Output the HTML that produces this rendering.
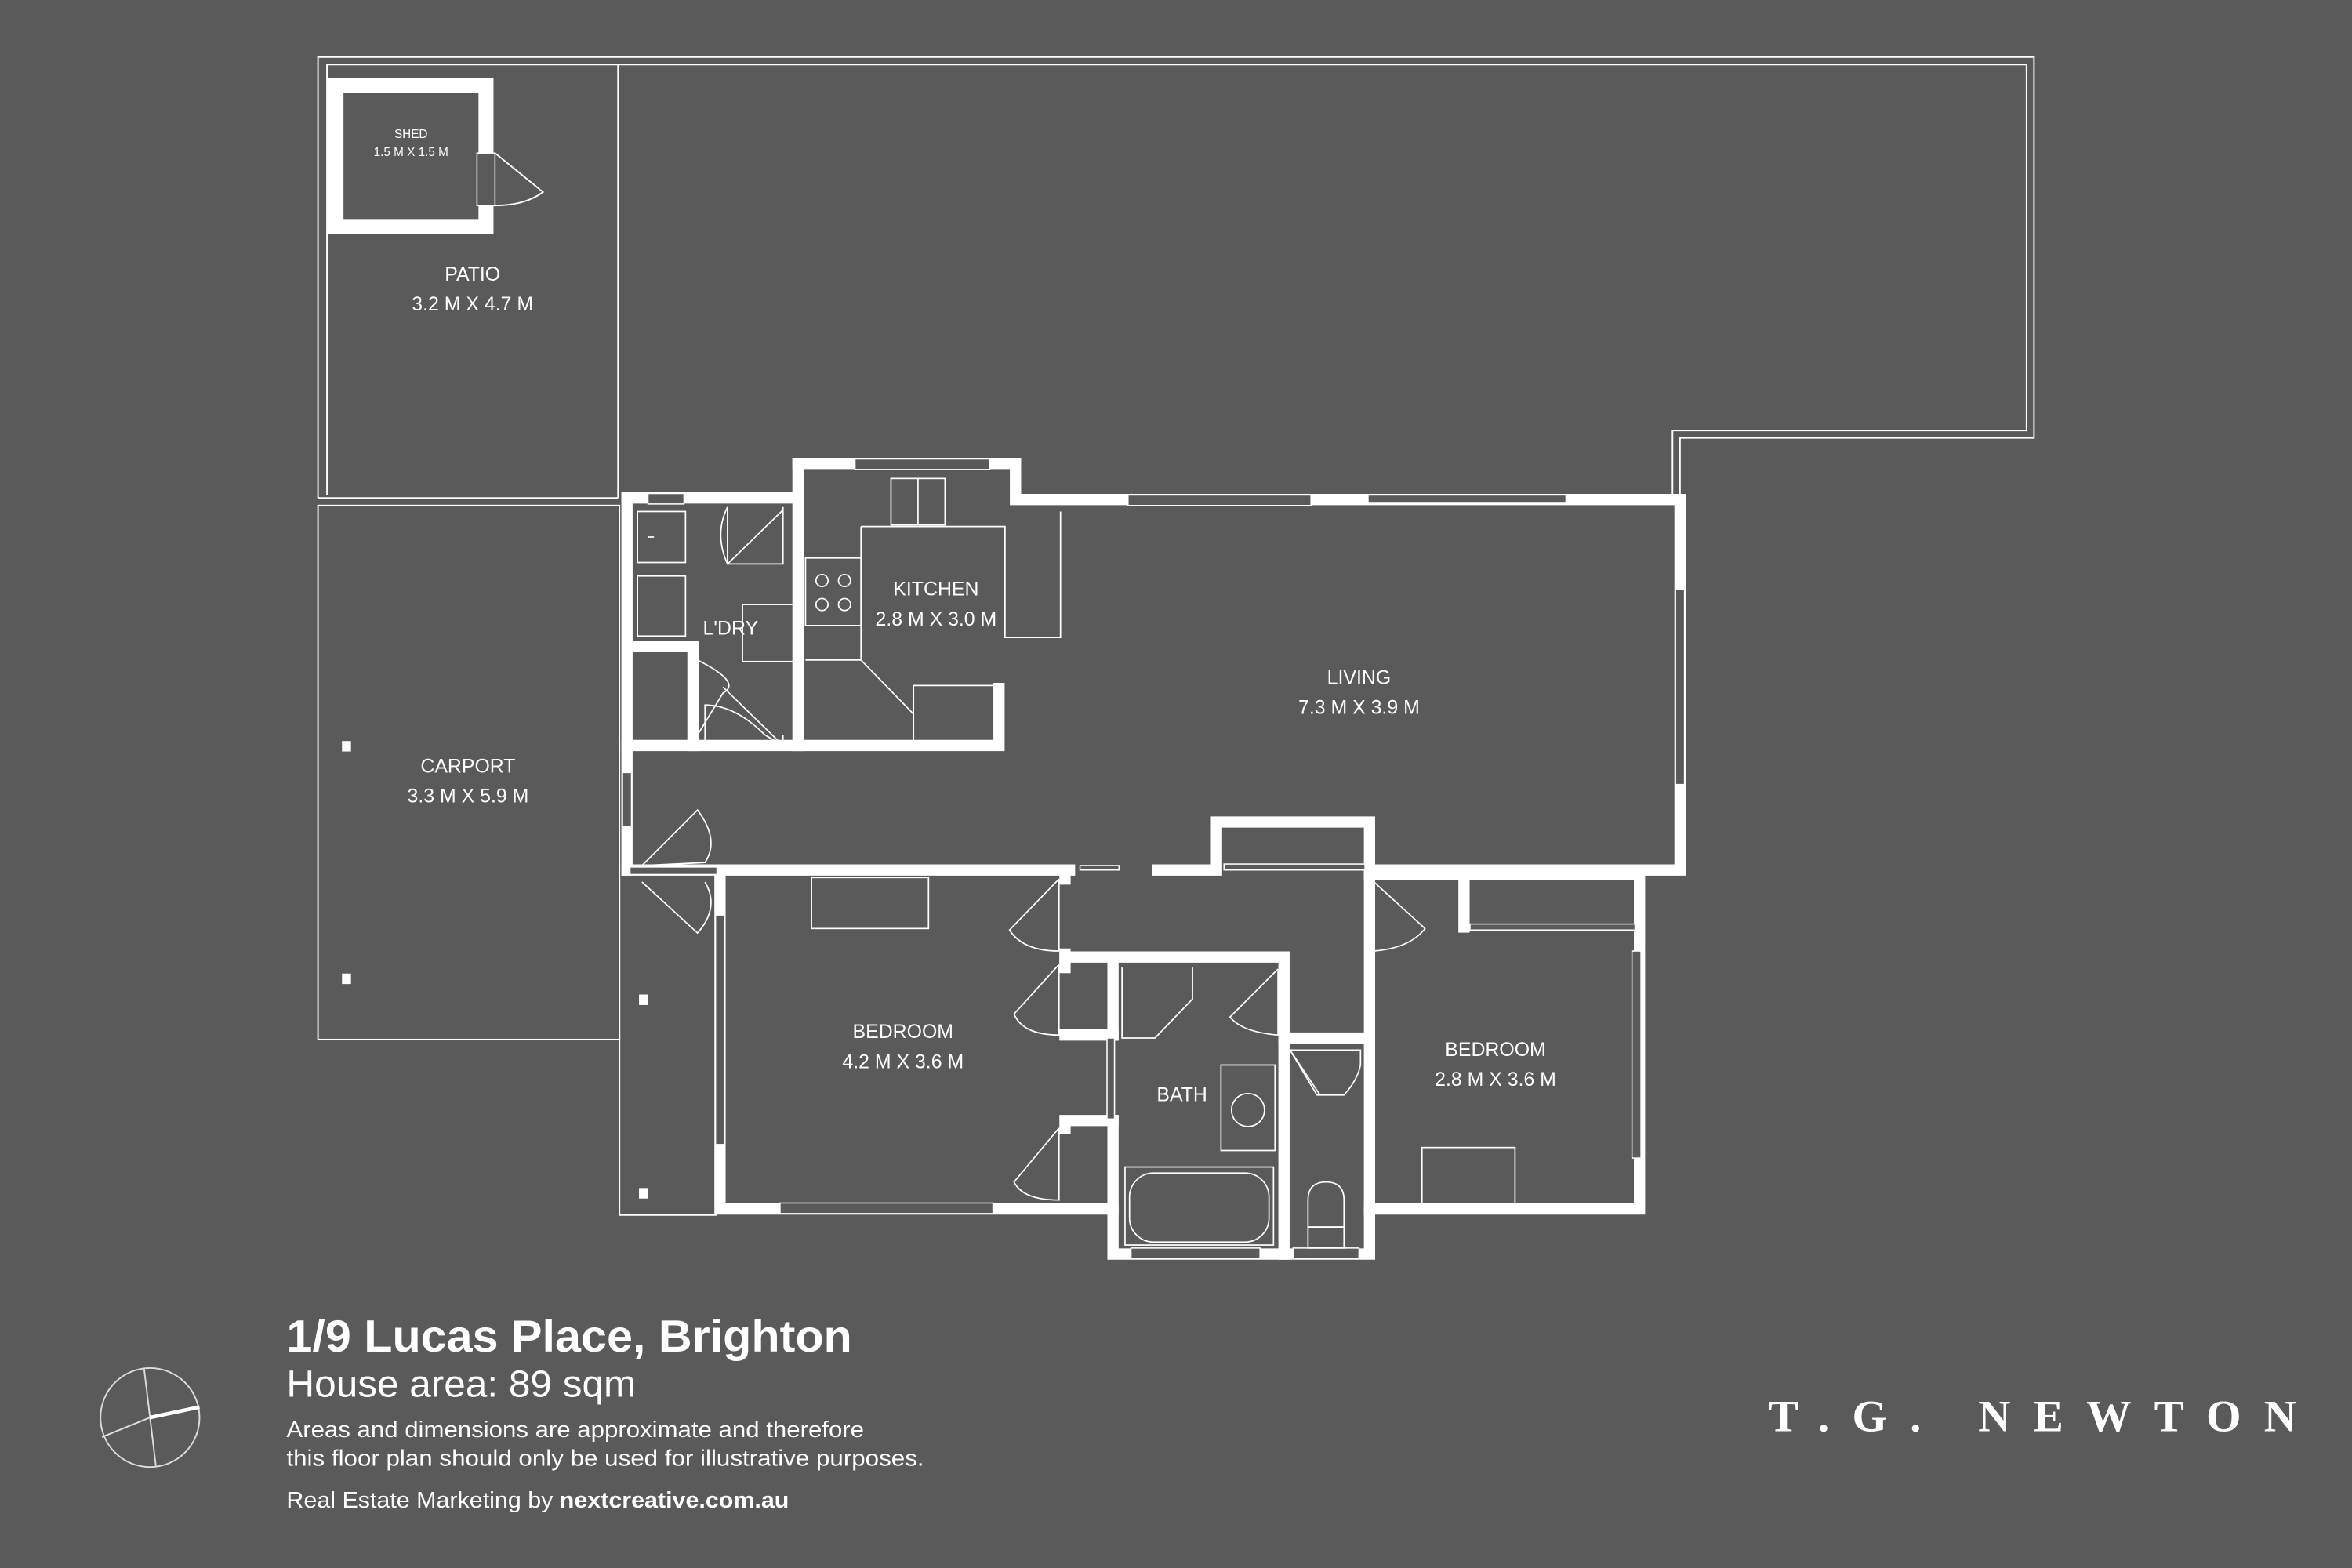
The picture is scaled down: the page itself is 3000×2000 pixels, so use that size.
<!DOCTYPE html>
<html><head><meta charset="utf-8"><style>
html,body{margin:0;padding:0;background:#5a5a5a;}
svg{display:block}
text{font-family:"Liberation Sans",sans-serif;fill:#fff}
</style></head><body>
<svg width="3000" height="2000" viewBox="0 0 1568 1045.3" xmlns="http://www.w3.org/2000/svg">
<rect x="0" y="0" width="1568" height="1046" fill="#5a5a5a"/>
<g fill="none" stroke="#fff" stroke-width="1">
<path d="M212,332 L212,38 L1356,38 L1356,292 L1120,292 L1120,330"/>
<path d="M218,330 L218,43 L1351,43 L1351,287 L1115,287 L1115,330"/>
<path d="M412,43 L412,332 M212,332 L412,332"/>
<rect x="212" y="337" width="201" height="356"/>
<path d="M413,585 L413,810 L478,810"/>
<path d="M325,102 L325,137 L330,137 M330,102 L362,128 Q350,137 330,137"/>
</g>
<rect x="224" y="57" width="100" height="94" fill="none" stroke="#fff" stroke-width="10"/>
<rect x="318" y="102" width="12" height="35" fill="#5a5a5a" stroke="#fff" stroke-width="0.8"/>
<g fill="#fff" stroke="none">
<rect x="228" y="494" width="6" height="7"/><rect x="228" y="649" width="6" height="7"/>
<rect x="426" y="663" width="6" height="7"/><rect x="426" y="792" width="6" height="7"/>
</g>
<g fill="none" stroke="#fff" stroke-width="7.5" stroke-linecap="square" stroke-linejoin="miter">
<path d="M532,309 L677,309 L677,333 L1120,333 L1120,580 L913,580"/>
<path d="M913,580 L913,548 L811,548 L811,580 L772,580"/>
<path d="M713,580 L480,580 L480,806 L742,806"/>
<path d="M418,332 L418,580"/>
<path d="M418,332 L532,332"/>
<path d="M532,309 L532,497"/>
<path d="M418,497 L666,497 L666,459"/>
<path d="M421,431 L462,431 L462,497"/>
<path d="M710,580 L710,586 M710,636 L710,645 M710,690 L742,690 M710,747 L742,747 M710,747 L710,752"/>
<path d="M710,638 L856,638 L856,692 L910,692"/>
<path d="M856,692 L856,836"/>
<path d="M742,638 L742,690 M742,747 L742,836 L913,836 L913,580"/>
<path d="M913,583 L1093,583 L1093,806 L913,806"/>
<path d="M976,583 L976,618"/>
<path d="M418,580 L478,580"/>
</g>
<g fill="#5a5a5a" stroke="#fff" stroke-width="0.8">
<rect x="570" y="306" width="90" height="7"/>
<rect x="752" y="330" width="122" height="7"/>
<rect x="912" y="330" width="132" height="5"/>
<rect x="1117" y="393" width="6" height="130"/>
<rect x="415" y="515" width="6" height="36"/>
<rect x="477" y="610" width="6" height="153"/>
<rect x="520" y="802" width="142" height="7"/>
<rect x="1088" y="634" width="6" height="138"/>
<rect x="754" y="832" width="86" height="7"/>
<rect x="862" y="832" width="44" height="7"/>
<rect x="432" y="329" width="24" height="7"/>
<rect x="420" y="578" width="58" height="5"/>
<rect x="738" y="692" width="5" height="54"/>
<rect x="980" y="616" width="110" height="4"/>
<rect x="816" y="576" width="94" height="4"/>
<rect x="720" y="577" width="26" height="3"/>
</g>
<g fill="none" stroke="#fff" stroke-width="0.9">
<rect x="594" y="319" width="36" height="31"/><line x1="612" y1="319" x2="612" y2="350"/>
<path d="M574,351 L670,351 L670,425 L707,425 L707,341"/>
<path d="M574,351 L574,440 L537,440"/>
<rect x="537" y="372" width="37" height="45"/>
<circle cx="548" cy="387" r="4"/><circle cx="563" cy="387" r="4"/><circle cx="548" cy="403" r="4"/><circle cx="563" cy="403" r="4"/>
<path d="M574,440 L609,476"/>
<rect x="609" y="457" width="54" height="40"/>
<rect x="541" y="585" width="78" height="34"/>
<rect x="948" y="765" width="62" height="38"/>
<rect x="425" y="341" width="32" height="34"/>
<rect x="425" y="384" width="32" height="40"/>
<rect x="495" y="403" width="37" height="38"/>
<path d="M485,338 L485,376 L522,376 L522,338 M485,376 L522,340 M485,338 Q476,356 485,376"/>
<path d="M465,440 L465,490 M465,440 Q495,455 482,462 L465,490"/>
<path d="M470,497 L470,470 Q490,470 510,490 L522,497 L522,490 M482,458 L522,497"/>
<path d="M428,577 L465,540 Q480,560 470,575 Z M428,588 L465,622 Q480,605 470,588"/>
<path d="M706,586 L706,634 Q682,634 673,620 L706,586"/>
<path d="M706,643 L706,690 Q682,690 676,676 L706,643"/>
<path d="M706,752 L706,800 Q682,800 676,788 L706,752"/>
<path d="M916,588 L916,634 Q940,632 950,619 L916,588"/>
<path d="M852,646 L852,690 Q828,688 820,678 L852,646"/>
<path d="M860,700 L907,700 L907,710 Q905,720 896,730 L878,730 Z M860,700 L880,730"/>
<path d="M748,645 L748,692 L770,692 L795,666 L795,645"/>
<rect x="814" y="710" width="36" height="57"/>
<circle cx="832" cy="740" r="11"/>
<rect x="750" y="778" width="99" height="52"/>
<rect x="753" y="782" width="93" height="46" rx="16"/>
<path d="M872,818 L872,800 Q872,788 884,788 Q896,788 896,800 L896,818 Z"/>
<rect x="872" y="818" width="24" height="14"/>
<line x1="432" y1="358" x2="436" y2="358"/>
</g>
<g font-size="13" text-anchor="middle">
<text x="274" y="92" font-size="8">SHED</text>
<text x="274" y="104" font-size="8">1.5 M X 1.5 M</text>
<text x="315" y="187">PATIO</text><text x="315" y="207">3.2 M X 4.7 M</text>
<text x="312" y="515">CARPORT</text><text x="312" y="535">3.3 M X 5.9 M</text>
<text x="624" y="397">KITCHEN</text><text x="624" y="417">2.8 M X 3.0 M</text>
<text x="487" y="423">L'DRY</text>
<text x="906" y="456">LIVING</text><text x="906" y="476">7.3 M X 3.9 M</text>
<text x="602" y="692">BEDROOM</text><text x="602" y="712">4.2 M X 3.6 M</text>
<text x="788" y="734">BATH</text>
<text x="997" y="704">BEDROOM</text><text x="997" y="724">2.8 M X 3.6 M</text>
</g>
<g fill="none" stroke="#ddd" stroke-width="1">
<circle cx="100" cy="945" r="33"/>
<line x1="96" y1="912" x2="104" y2="978"/>
<line x1="68" y1="958" x2="100" y2="945"/>
</g>
<line x1="100" y1="945" x2="133" y2="938" stroke="#fff" stroke-width="2.5"/>
<text x="191" y="901" font-size="30" font-weight="bold" textLength="377" lengthAdjust="spacingAndGlyphs">1/9 Lucas Place, Brighton</text>
<text x="191" y="931" font-size="25" textLength="233" lengthAdjust="spacingAndGlyphs">House area: 89 sqm</text>
<text x="191" y="958" font-size="15" textLength="385" lengthAdjust="spacingAndGlyphs">Areas and dimensions are approximate and therefore</text>
<text x="191" y="977" font-size="15" textLength="425" lengthAdjust="spacingAndGlyphs">this floor plan should only be used for illustrative purposes.</text>
<text x="191" y="1005" font-size="15" textLength="335" lengthAdjust="spacingAndGlyphs">Real Estate Marketing by <tspan font-weight="bold">nextcreative.com.au</tspan></text>
<text x="1179" y="954" font-size="30" font-weight="bold" style="font-family:'Liberation Serif',serif" textLength="352" lengthAdjust="spacing">T.G. NEWTON</text>
</svg>
</body></html>
